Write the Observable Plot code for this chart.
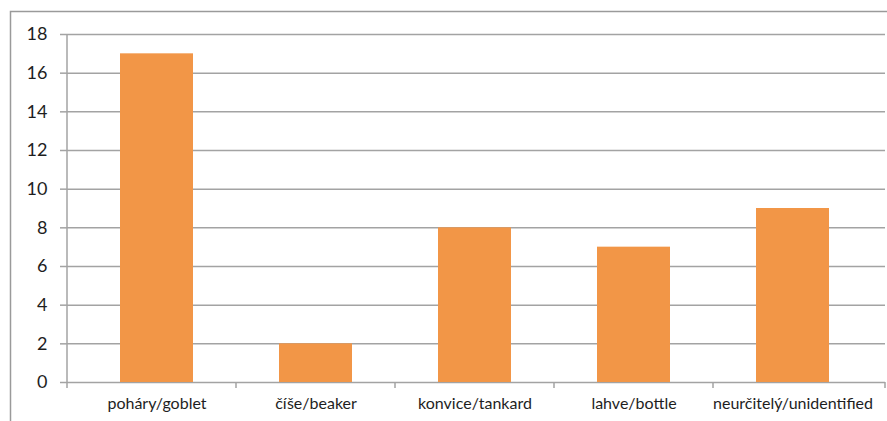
<!DOCTYPE html>
<html>
<head>
<meta charset="utf-8">
<script src="https://cdn.jsdelivr.net/npm/d3@7"></script>
<script src="https://cdn.jsdelivr.net/npm/@observablehq/plot@0.6"></script>
<style>
  html, body { margin: 0; padding: 0; background: #fff; }
  #chart svg { display: block; }
</style>
</head>
<body>
<div id="chart"></div>
<script>
const categories = ["poháry/goblet", "číše/beaker", "konvice/tankard", "lahve/bottle", "neurčitelý/unidentified"];
const counts = [17, 2, 8, 7, 9];
const yTicks = [0, 2, 4, 6, 8, 10, 12, 14, 16, 18];

const data = categories.map((c, i) => ({category: c, count: counts[i]}));

const gridColor = "#a3a3a3";
const textColor = "#1e1e1e";
const barColor = "#f29647";

const W = 887, H = 421, mL = 67, mR = 2, mT = 34, mB = 39;

const plot = Plot.plot({
  width: W,
  height: H,
  marginLeft: mL,
  marginRight: mR,
  marginTop: mT,
  marginBottom: mB,
  style: {fontFamily: "Lato, 'Open Sans', sans-serif", background: "#fff", color: textColor},
  x: {domain: categories, range: [76, 874], paddingInner: 0.54, paddingOuter: 0.27, label: null},
  y: {domain: [0, 18], label: null},
  marks: [
    Plot.gridY(yTicks, {stroke: gridColor, strokeOpacity: 1, strokeWidth: 1.5}),
    Plot.barY(data, {x: "category", y: "count", fill: barColor}),
    Plot.axisY(yTicks, {tickSize: 7, tickPadding: 13, fontSize: 18, stroke: gridColor, strokeWidth: 1.5, label: null}),
    Plot.axisX({tickSize: 0, tickPadding: 15, fontSize: 16, label: null})
  ]
});

// post-process: axis lines, category boundary ticks, outer border
const svg = d3.select(plot);
svg.selectAll("text").attr("fill", textColor);
const xs = plot.scale("x");
const y0 = H - mB;
const gap = xs.step - xs.bandwidth;
const bounds = [mL];
categories.forEach((c, i) => {
  if (i > 0) bounds.push(xs.apply(c) - gap / 2);
});
bounds.push(W - mR);
const g = svg.append("g").attr("stroke", gridColor).attr("stroke-width", 1.5);
g.append("line").attr("x1", mL).attr("x2", mL).attr("y1", mT).attr("y2", y0 + 1);
bounds.forEach(b => {
  g.append("line").attr("x1", b).attr("x2", b).attr("y1", y0).attr("y2", y0 + 6);
});
svg.append("path")
  .attr("d", `M10.5,${H}V11.5H${W}`)
  .attr("fill", "none")
  .attr("stroke", "#9a9a9a")
  .attr("stroke-width", 1.5);

document.getElementById("chart").appendChild(plot);
</script>
</body>
</html>
